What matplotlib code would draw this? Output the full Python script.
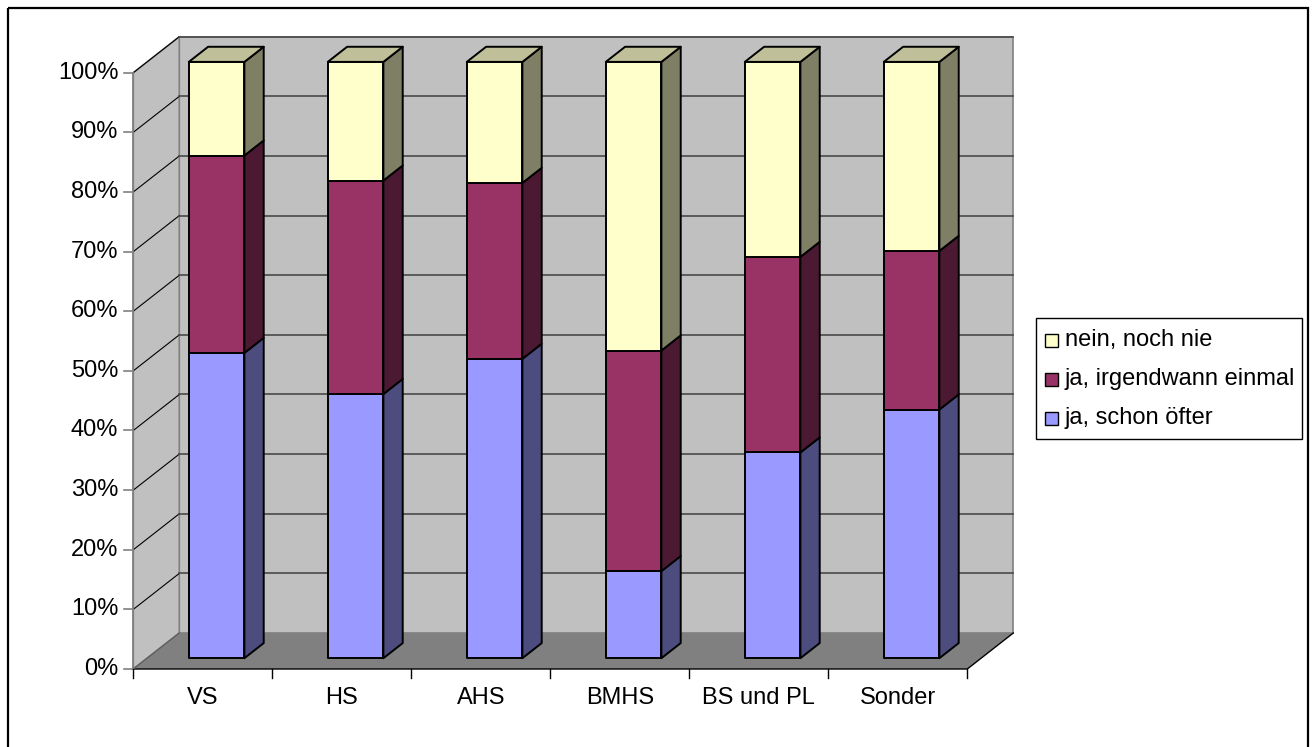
import matplotlib
matplotlib.use('Agg')
import matplotlib.pyplot as plt
from matplotlib.patches import Polygon, Rectangle

plt.rcParams['font.family'] = ['Liberation Sans', 'DejaVu Sans']

# Anteile in Prozent je Schultyp
schultyp = ['VS', 'HS', 'AHS', 'BMHS', 'BS und PL', 'Sonder']
schon_oefter = [51.2, 44.3, 50.2, 14.6, 34.5, 41.7]
irgendwann = [33.1, 35.8, 29.5, 37.0, 32.8, 26.6]
noch_nie = [15.7, 19.9, 20.3, 48.4, 32.7, 31.7]
yticks = [0, 10, 20, 30, 40, 50, 60, 70, 80, 90, 100]

serien = [
    (schon_oefter, 'ja, schon öfter', '#9999ff', '#4c4c7f', '#b3b3ff'),
    (irgendwann, 'ja, irgendwann einmal', '#993366', '#4c1933', '#b35c85'),
    (noch_nie, 'nein, noch nie', '#ffffcc', '#7f7f66', '#bfbf99'),
]

# Pixelgeometrie des 3D-Diagramms
X0, CAT_W = 133.3, 139.0
Y0, SCALE = 669.0, 5.963
DX, DY = 46.0, 36.0
D_FRONT, D_BACK = 0.30, 0.72
HALF_W = 0.20
ncat = len(schultyp)
FS = 17


def proj(xu, v, d):
    return (X0 + xu * CAT_W + d * DX, Y0 - v * SCALE - d * DY)


fig = plt.figure(figsize=(13.12, 7.47), dpi=100)
ax = fig.add_axes([0, 0, 1, 1])
ax.set_xlim(0, 1312)
ax.set_ylim(747, 0)
ax.axis('off')

# Rahmen
ax.add_patch(Rectangle((8, 8), 1299.5, 760, fill=False, ec='black', lw=1.6, zorder=1))

# Rueckwand, Seitenwand, Boden
back = [proj(0, 0, 1), proj(ncat, 0, 1), proj(ncat, 100, 1), proj(0, 100, 1)]
side = [proj(0, 0, 0), proj(0, 100, 0), proj(0, 100, 1), proj(0, 0, 1)]
floor = [proj(0, 0, 0), proj(ncat, 0, 0), proj(ncat, 0, 1), proj(0, 0, 1)]
ax.add_patch(Polygon(back, closed=True, fc='#c0c0c0', ec='#808080', lw=1.2, zorder=2))
ax.add_patch(Polygon(side, closed=True, fc='#c0c0c0', ec='#808080', lw=1.2, zorder=2))

for t in yticks[1:]:
    a = proj(0, t, 0)
    b = proj(0, t, 1)
    c = proj(ncat, t, 1)
    ax.plot([a[0], b[0]], [a[1], b[1]], color='black', lw=0.8, zorder=3)
    ax.plot([b[0], c[0]], [b[1], c[1]], color='#4a4a4a', lw=1.2, zorder=3)

ax.add_patch(Polygon(floor, closed=True, fc='#808080', ec='none', zorder=3))
p0, p1, p2 = proj(0, 0, 0), proj(ncat, 0, 0), proj(ncat, 0, 1)
ax.plot([p0[0], p1[0], p2[0]], [p0[1], p1[1], p2[1]], color='black', lw=1.0, zorder=4)
pl = proj(0, 0, 1)
ax.plot([p0[0], pl[0]], [p0[1], pl[1]], color='#606060', lw=1.0, zorder=4)

# Y-Achse
pa, pb = proj(0, 0, 0), proj(0, 100, 0)
ax.plot([pa[0], pb[0]], [pa[1], pb[1]], color='#808080', lw=1.2, zorder=4)
for t in yticks:
    x, y = proj(0, t, 0)
    ax.plot([x - 9, x], [y, y], color='#808080', lw=1.2, zorder=4)
    ax.text(x - 15, y, f'{t}%', ha='right', va='center', fontsize=FS, zorder=5)

# X-Achse
for i in range(ncat + 1):
    x, y = proj(i, 0, 0)
    ax.plot([x, x], [y, y + 9], color='black', lw=1.0, zorder=4)
for i, name in enumerate(schultyp):
    x, y = proj(i + 0.5, 0, 0)
    ax.text(x, y + 29, name, ha='center', va='center', fontsize=FS, zorder=5)

# gestapelte 3D-Saeulen
for i in range(ncat):
    xl, xr = i + 0.5 - HALF_W, i + 0.5 + HALF_W
    unten = 0.0
    for k, (werte, label, c_front, c_side, c_top) in enumerate(serien):
        oben = unten + werte[i]
        front = [proj(xl, unten, D_FRONT), proj(xr, unten, D_FRONT),
                 proj(xr, oben, D_FRONT), proj(xl, oben, D_FRONT)]
        seite = [proj(xr, unten, D_FRONT), proj(xr, unten, D_BACK),
                 proj(xr, oben, D_BACK), proj(xr, oben, D_FRONT)]
        ax.add_patch(Polygon(seite, closed=True, fc=c_side, ec='black', lw=1.4,
                             joinstyle='round', zorder=6))
        ax.add_patch(Polygon(front, closed=True, fc=c_front, ec='black', lw=1.4,
                             joinstyle='round', zorder=7))
        if k == len(serien) - 1:
            deckel = [proj(xl, oben, D_FRONT), proj(xr, oben, D_FRONT),
                      proj(xr, oben, D_BACK), proj(xl, oben, D_BACK)]
            ax.add_patch(Polygon(deckel, closed=True, fc=c_top, ec='black', lw=1.4,
                                 joinstyle='round', zorder=6))
        unten = oben

# Legende
ax.add_patch(Rectangle((1035.7, 318.3), 1302 - 1035.7, 121, fill=False,
                       ec='black', lw=1.0, zorder=5))
for j, (werte, label, c_front, c_side, c_top) in enumerate(reversed(serien)):
    yc = 340 + j * 39
    ax.add_patch(Rectangle((1044.5, yc - 6.5), 13, 13, fc=c_front, ec='black',
                           lw=1.0, zorder=6))
    ax.text(1065, yc, label, ha='left', va='center', fontsize=FS, zorder=6)

plt.savefig('out.png', dpi=100)
plt.close()
